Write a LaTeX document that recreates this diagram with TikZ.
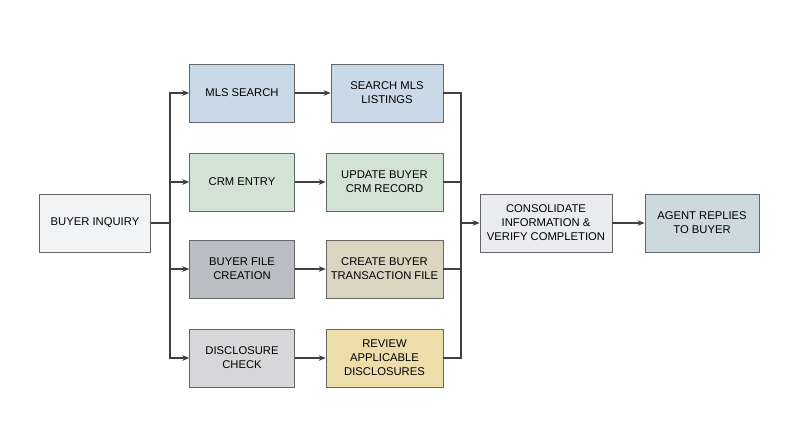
\documentclass[tikz,border=0pt]{standalone}
\usepackage{fontspec}
\setmainfont{Liberation Sans}
\usetikzlibrary{arrows.meta}
\definecolor{cblue}{HTML}{C9D9E8}
\definecolor{cgreen}{HTML}{D3E3D3}
\definecolor{cgray}{HTML}{BABDC2}
\definecolor{ctan}{HTML}{D9D5C1}
\definecolor{clight}{HTML}{D7D7D9}
\definecolor{cyellow}{HTML}{EDDDAB}
\definecolor{cwhite}{HTML}{E9EBEF}
\definecolor{cteal}{HTML}{CDDADD}
\begin{document}
\begin{tikzpicture}[x=0.025cm,y=-0.025cm,-{Stealth[length=5pt,width=4pt]},thick,draw=black!75]
      \tikzstyle{every node}=[draw=black!60,line width=0.5pt,shape=rectangle,align=center,inner sep=2pt,font=\fontsize{8}{10}\selectfont,minimum height=1.45cm]
      \useasboundingbox (0,0) rectangle (800,447);

      \node[fill=cwhite!60,minimum width=2.78cm] (inq) at (95,223) {BUYER INQUIRY};

      \node[fill=cblue,minimum width=2.62cm] (mls) at (242,93) {MLS SEARCH};
      \node[fill=cgreen,minimum width=2.62cm] (crm) at (242,182) {CRM ENTRY};
      \node[fill=cgray,minimum width=2.62cm] (file) at (242,269) {BUYER FILE\\CREATION};
      \node[fill=clight,minimum width=2.62cm] (disc) at (242,358) {DISCLOSURE\\CHECK};

      \node[fill=cblue,minimum width=2.8cm] (listings) at (387,93) {SEARCH MLS\\LISTINGS};
      \node[fill=cgreen,minimum width=2.92cm] (record) at (384.5,182) {UPDATE BUYER\\CRM RECORD};
      \node[fill=ctan,minimum width=2.92cm] (trans) at (384.5,269) {CREATE BUYER\\TRANSACTION FILE};
      \node[fill=cyellow,minimum width=2.92cm] (review) at (384.5,358) {REVIEW\\APPLICABLE\\DISCLOSURES};

      \node[fill=cwhite,minimum width=3.3cm] (cons) at (546,223) {CONSOLIDATE\\INFORMATION \&\\VERIFY COMPLETION};
      \node[fill=cteal,minimum width=2.85cm] (agent) at (702,223) {AGENT REPLIES\\TO BUYER};

      \coordinate (fork) at (170,223);
      \coordinate (join) at (461,223);

      \draw[-] (inq) -- (fork);
      \draw (fork) |- (mls);
      \draw (fork) |- (crm);
      \draw (fork) |- (file);
      \draw (fork) |- (disc);

      \draw (mls) -- (listings);
      \draw (crm) -- (record);
      \draw (file) -- (trans);
      \draw (disc) -- (review);

      \draw[-] (listings) -| (join);
      \draw[-] (record) -| (join);
      \draw[-] (trans) -| (join);
      \draw[-] (review) -| (join);
      \draw (join) -- (cons);
      \draw (cons) -- (agent);
    \end{tikzpicture}
\end{document}
